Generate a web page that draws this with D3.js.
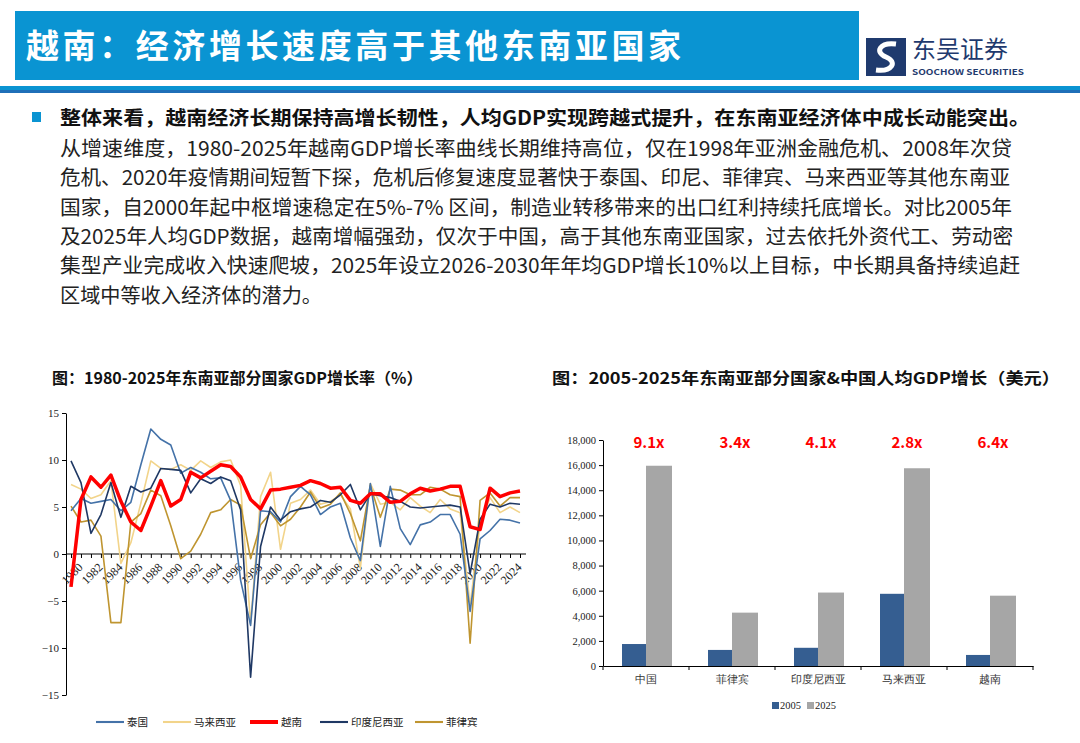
<!DOCTYPE html>
<html><head><meta charset="utf-8">
<script src="https://cdn.jsdelivr.net/npm/d3@7/dist/d3.min.js"></script>
<style>body{margin:0;background:#fff}svg{display:block;font-family:"Noto Sans CJK SC","Noto Sans",sans-serif}</style>
</head><body><svg id="c" width="1080" height="743"></svg>
<script>
// 左图：GDP增长率
var years=d3.range(1980,2026);
var thailand=[4.6,5.9,5.4,5.6,5.8,4.6,5.5,9.5,13.3,12.2,11.6,8.6,9.2,8.7,8.0,8.1,5.7,-2.8,-7.6,4.6,4.5,3.4,6.1,7.2,6.3,4.2,5.0,5.4,1.7,-0.7,7.5,0.8,7.2,2.7,1.0,3.1,3.4,4.2,4.2,2.1,-6.1,1.6,2.5,3.7,3.6,3.3];
var malaysia=[7.4,6.9,5.9,6.3,7.8,-1.0,1.2,5.4,9.9,9.1,9.0,9.5,8.9,9.9,9.2,9.8,10.0,7.3,-7.4,6.1,8.7,0.5,5.4,5.8,6.8,5.3,5.6,6.3,4.8,-1.5,7.5,5.3,5.5,4.7,6.0,5.1,4.4,5.8,4.8,4.4,-5.5,3.3,6.0,4.4,5.0,4.4];
var vietnam=[-3.5,5.8,8.2,7.1,8.4,5.6,3.4,2.5,5.1,7.8,5.1,5.8,8.7,8.1,8.8,9.5,9.3,8.2,5.8,4.8,6.8,6.9,7.1,7.3,7.8,7.5,7.0,7.1,5.7,5.4,6.4,6.4,5.5,5.6,6.4,7.0,6.7,6.9,7.2,7.2,2.9,2.6,7.0,6.1,6.5,6.7];
var indonesia=[9.9,7.6,2.2,4.2,7.6,3.9,7.2,6.6,7.0,9.1,9.0,8.9,6.5,8.0,7.5,8.2,7.8,4.7,-13.1,0.8,5.0,3.6,4.5,4.8,5.0,5.7,5.5,6.3,7.4,4.7,6.4,6.2,6.0,5.6,5.0,4.9,5.0,5.1,5.2,5.0,-2.1,3.7,5.3,5.0,5.4,5.3];
var philippines=[5.1,3.4,3.6,1.9,-7.3,-7.3,3.4,4.3,6.8,6.2,3.0,-0.5,0.3,2.1,4.4,4.7,5.8,5.2,-0.5,3.1,4.4,3.0,3.7,5.0,6.6,4.9,5.3,6.5,4.3,1.4,7.3,3.9,6.9,6.8,6.3,6.3,7.1,6.9,6.3,6.1,-9.5,5.7,6.5,5.1,6.0,6.0];
var lineNames=["泰国","马来西亚","越南","印度尼西亚","菲律宾"];
var lineColors=["#4472a8","#f2d48a","#ff0000","#1f3864","#bf9530"];
var lineWidths=[1.6,1.6,3.5,1.6,1.6];
var yTicks=[15,10,5,0,-5,-10,-15];

// 右图：人均GDP
var countries=["中国","菲律宾","印度尼西亚","马来西亚","越南"];
var gdp2005=[1750,1280,1450,5750,880];
var gdp2025=[15950,4250,5850,15750,5600];
var multiples=["9.1x","3.4x","4.1x","2.8x","6.4x"];
var barTicks=d3.range(0,18001,2000);

var svg=d3.select("#c");
var serif='"Liberation Serif","DejaVu Serif",serif';

// header
svg.append("rect").attr("x",15).attr("y",11).attr("width",844).attr("height",69).attr("fill","#0a94d2");
svg.append("text").attr("x",26).attr("y",58).attr("fill","#fff").attr("font-size",33).attr("font-weight",700).attr("textLength",655).text("越南：经济增长速度高于其他东南亚国家");
var lg=svg.append("g").attr("transform","translate(866,38)");
lg.append("rect").attr("x",0).attr("y",0).attr("width",40).attr("height",38).attr("fill","#1f3a6e");
lg.append("path").attr("d","M30,6 C14,4 8,14 20,19 C32,24 26,34 10,32").attr("fill","none").attr("stroke","#fff").attr("stroke-width",5);
lg.append("text").attr("x",46).attr("y",20).attr("font-size",24).attr("fill","#1f3a6e").text("东吴证券");
lg.append("text").attr("x",46).attr("y",37).attr("font-size",8).attr("font-weight",700).attr("fill","#1f3a6e").attr("textLength",112).attr("lengthAdjust","spacingAndGlyphs").text("SOOCHOW SECURITIES");
svg.append("rect").attr("x",0).attr("y",86).attr("width",1080).attr("height",4).attr("fill","#0a94d2");
svg.append("rect").attr("x",0).attr("y",90).attr("width",1080).attr("height",3).attr("fill","#1f6fb8");

// body text
svg.append("rect").attr("x",32).attr("y",112).attr("width",9).attr("height",10).attr("fill","#0a94d2");
svg.append("text").attr("x",60).attr("y",125).attr("font-size",19.5).attr("font-weight",700).attr("fill","#111").attr("textLength",970).attr("lengthAdjust","spacingAndGlyphs").text("整体来看，越南经济长期保持高增长韧性，人均GDP实现跨越式提升，在东南亚经济体中成长动能突出。");
var body=["从增速维度，1980-2025年越南GDP增长率曲线长期维持高位，仅在1998年亚洲金融危机、2008年次贷",
"危机、2020年疫情期间短暂下探，危机后修复速度显著快于泰国、印尼、菲律宾、马来西亚等其他东南亚",
"国家，自2000年起中枢增速稳定在5%-7% 区间，制造业转移带来的出口红利持续托底增长。对比2005年",
"及2025年人均GDP数据，越南增幅强劲，仅次于中国，高于其他东南亚国家，过去依托外资代工、劳动密",
"集型产业完成收入快速爬坡，2025年设立2026-2030年年均GDP增长10%以上目标，中长期具备持续追赶",
"区域中等收入经济体的潜力。"];
var bodyLen=[952,950,952,953,960,262];
body.forEach(function(t,i){
  svg.append("text").attr("x",60).attr("y",156+i*29.3).attr("font-size",20.5).attr("fill","#222").attr("textLength",bodyLen[i]).attr("lengthAdjust","spacingAndGlyphs").text(t);
});

// chart titles
svg.append("text").attr("x",52).attr("y",384).attr("font-size",16).attr("font-weight",700).attr("fill","#111").text("图：1980-2025年东南亚部分国家GDP增长率（%）");
svg.append("text").attr("x",552).attr("y",384).attr("font-size",16).attr("font-weight",700).attr("fill","#111").attr("textLength",508).attr("lengthAdjust","spacingAndGlyphs").text("图：2005-2025年东南亚部分国家&中国人均GDP增长（美元）");

// left line chart
var x=d3.scaleLinear().domain([1980,2025]).range([71,520]);
var y=d3.scaleLinear().domain([-15,15]).range([695,413]);
var ya=svg.append("g").attr("transform","translate(66,0)").call(d3.axisLeft(y).tickValues(yTicks).tickSize(4).tickSizeOuter(0));
ya.selectAll("text").attr("font-family",serif).attr("font-size",11).attr("fill","#222");
var xa=svg.append("g").attr("transform","translate(0,"+y(0)+")").call(d3.axisBottom(x).tickValues(years).tickFormat(function(d){return d%2==0?d:"";}).tickSize(4).tickSizeOuter(0));
xa.select(".domain").attr("d","M66,0H526");
xa.selectAll("text").attr("font-family",serif).attr("font-size",12).attr("fill","#222").attr("text-anchor","end").attr("y",0).attr("dy","0.35em").attr("transform","translate(9,11) rotate(-45)");
svg.selectAll(".domain").attr("stroke","#000");
var series=[thailand,malaysia,vietnam,indonesia,philippines];
var drawOrder=[1,4,0,3,2];
var ln=d3.line().x(function(d,i){return x(years[i]);}).y(function(d){return y(d);});
drawOrder.forEach(function(k){
  svg.append("path").datum(series[k]).attr("d",ln).attr("fill","none").attr("stroke",lineColors[k]).attr("stroke-width",lineWidths[k]).attr("stroke-linejoin","round");
});
var legX=[96,163,250,320,415];
lineNames.forEach(function(n,i){
  svg.append("line").attr("x1",legX[i]).attr("x2",legX[i]+28).attr("y1",722).attr("y2",722).attr("stroke",lineColors[i]).attr("stroke-width",lineWidths[i]+0.5);
  svg.append("text").attr("x",legX[i]+31).attr("y",726).attr("font-size",10.5).attr("fill","#222").text(n);
});

// right bar chart
var bx=d3.scaleBand().domain(countries).range([603,1033]);
var by=d3.scaleLinear().domain([0,18000]).range([666,440]);
var bya=svg.append("g").attr("transform","translate(603,0)").call(d3.axisLeft(by).tickValues(barTicks).tickFormat(d3.format(",")).tickSize(4).tickSizeOuter(0));
bya.selectAll("text").attr("font-family",serif).attr("font-size",10.5).attr("fill","#222");
var bxa=svg.append("g").attr("transform","translate(0,666)").call(d3.axisBottom(bx).tickSize(0).tickSizeOuter(0));
bxa.selectAll("text").attr("font-size",10.5).attr("fill","#333").attr("dy","1.3em");
svg.selectAll(".bt").data(d3.range(countries.length+1)).enter().append("line").attr("x1",function(i){return 603+i*bx.step();}).attr("x2",function(i){return 603+i*bx.step();}).attr("y1",666).attr("y2",670).attr("stroke","#000");
svg.selectAll(".domain").attr("stroke","#000");
var bw=24;
countries.forEach(function(c,i){
  var cx=bx(c)+bx.bandwidth()/2;
  svg.append("rect").attr("x",cx-bw).attr("y",by(gdp2005[i])).attr("width",bw).attr("height",666-by(gdp2005[i])).attr("fill","#355e91");
  svg.append("rect").attr("x",cx).attr("y",by(gdp2025[i])).attr("width",bw+2).attr("height",666-by(gdp2025[i])).attr("fill","#a6a6a6");
  svg.append("text").attr("x",cx+3).attr("y",448).attr("text-anchor","middle").attr("font-size",15).attr("font-weight",700).attr("fill","#ff0000").text(multiples[i]);
});
svg.append("rect").attr("x",772).attr("y",702).attr("width",7).attr("height",7).attr("fill","#355e91");
svg.append("text").attr("x",780).attr("y",709).attr("font-family",serif).attr("font-size",10.5).attr("fill","#222").text("2005");
svg.append("rect").attr("x",807).attr("y",702).attr("width",7).attr("height",7).attr("fill","#a6a6a6");
svg.append("text").attr("x",815).attr("y",709).attr("font-family",serif).attr("font-size",10.5).attr("fill","#222").text("2025");
</script></body></html>
